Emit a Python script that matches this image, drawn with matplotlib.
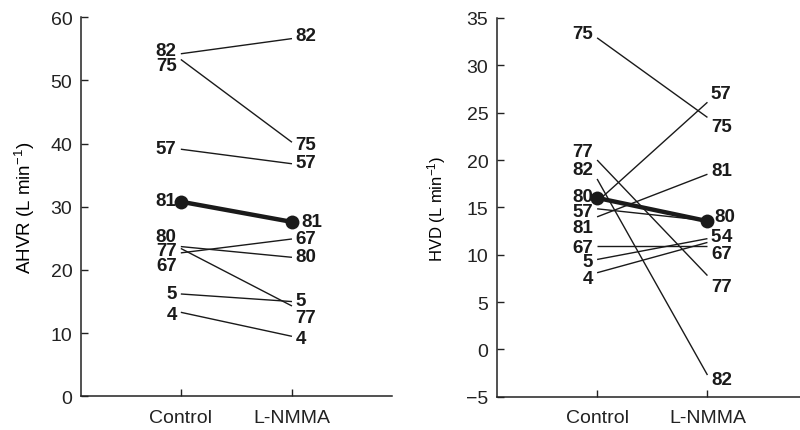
import matplotlib.pyplot as plt
import numpy as np

plt.rcParams['font.family'] = ['Liberation Sans', 'DejaVu Sans']
plt.rcParams['mathtext.fontset'] = 'custom'
plt.rcParams['mathtext.rm'] = 'Liberation Sans'
plt.rcParams['mathtext.it'] = 'Liberation Sans:italic'

conditions = ['Control', 'L-NMMA']

# AHVR (left panel): individual subjects, thin lines
ahvr_ids = ['82', '75', '57', '80', '77', '67', '5', '4']
ahvr_control = [54.2, 53.3, 39.1, 23.7, 23.4, 22.7, 16.2, 13.3]
ahvr_lnmma = [56.6, 40.2, 36.8, 22.0, 14.3, 24.9, 15.0, 9.5]
# thick line with dots
ahvr_mean_id = '81'
ahvr_mean = [30.8, 27.6]
# where the subject numbers are written
ahvr_lab_ctrl_ids = ['82', '75', '57', '81', '80', '77', '67', '5', '4']
ahvr_lab_ctrl_y = [54.7, 52.4, 39.2, 31.0, 25.3, 23.1, 20.7, 16.3, 13.0]
ahvr_lab_nm_ids = ['82', '75', '57', '81', '67', '80', '5', '77', '4']
ahvr_lab_nm_y = [57.1, 39.9, 37.0, 27.6, 24.9, 22.1, 15.1, 12.5, 9.1]

# HVD (right panel)
hvd_ids = ['75', '57', '77', '82', '81', '80', '67', '5', '4']
hvd_control = [32.9, 15.6, 20.0, 18.0, 14.0, 14.85, 10.9, 9.5, 8.1]
hvd_lnmma = [24.5, 26.1, 7.8, -2.7, 18.5, 13.6, 10.9, 11.7, 11.3]
hvd_mean_id = '80'
hvd_mean = [16.0, 13.55]
hvd_lab_ctrl_ids = ['75', '77', '82', '80', '57', '81', '67', '5', '4']
hvd_lab_ctrl_y = [33.4, 20.9, 19.0, 16.2, 14.6, 12.9, 10.8, 9.3, 7.5]
hvd_lab_nm_ids = ['57', '75', '81', '80', '5', '4', '67', '77', '82']
hvd_lab_nm_y = [27.0, 23.5, 18.9, 14.0, 11.9, 11.9, 10.1, 6.6, -3.2]

fig = plt.figure(figsize=(8, 4.31), dpi=100)
ax1 = fig.add_axes([0.101, 0.078, 0.389, 0.880])
ax2 = fig.add_axes([0.621, 0.077, 0.380, 0.879])

x = np.array([1, 2])
lab_font = dict(fontsize=13.5, fontweight='bold', color='#1a1a1a')


def draw_panel(ax, c_vals, n_vals, mean_vals, lc_ids, lc_y, ln_ids, ln_y, nm_offsets):
    for c, n in zip(c_vals, n_vals):
        ax.plot(x, [c, n], color='#1a1a1a', lw=1.0, solid_capstyle='butt')
    ax.plot(x, mean_vals, color='#1a1a1a', lw=3.2, marker='o', ms=10,
            markeredgewidth=0, zorder=3)
    for t, y in zip(lc_ids, lc_y):
        ax.annotate(t, xy=(1, y), xytext=(-3, 0), textcoords='offset points',
                    ha='right', va='center', **lab_font)
    for t, y in zip(ln_ids, ln_y):
        dx = nm_offsets.get(t, 2.5)
        ax.annotate(t, xy=(2, y), xytext=(dx, 0), textcoords='offset points',
                    ha='left', va='center', **lab_font)


draw_panel(ax1, ahvr_control, ahvr_lnmma, ahvr_mean,
           ahvr_lab_ctrl_ids, ahvr_lab_ctrl_y, ahvr_lab_nm_ids, ahvr_lab_nm_y,
           {'81': 7})
draw_panel(ax2, hvd_control, hvd_lnmma, hvd_mean,
           hvd_lab_ctrl_ids, hvd_lab_ctrl_y, hvd_lab_nm_ids, hvd_lab_nm_y,
           {'80': 5, '4': 10})

ax1.set_xlim(0.1, 2.9)
ax1.set_ylim(0, 60)
ax1.set_yticks(np.arange(0, 61, 10))
ax1.set_ylabel('AHVR (L min$^{-1}$)', fontsize=13.5)
ax1.yaxis.set_label_coords(-0.14, 0.5)

ax2.set_xlim(0.091, 2.846)
ax2.set_ylim(-5, 35)
ax2.set_yticks(np.arange(-5, 36, 5))
ax2.set_ylabel('HVD (L min$^{-1}$)', fontsize=12)
ax2.yaxis.set_label_coords(-0.16, 0.5)

for ax in (ax1, ax2):
    ax.set_xticks(x)
    ax.set_xticklabels(conditions)
    ax.tick_params(direction='in', length=5, width=1.0, labelsize=14,
                   colors='#222222', pad=6)
    ax.tick_params(axis='x', pad=9)
    for s in ('top', 'right'):
        ax.spines[s].set_visible(False)
    for s in ('left', 'bottom'):
        ax.spines[s].set_linewidth(1.1)
        ax.spines[s].set_color('#222222')

fig.savefig('out.png', dpi=100)
